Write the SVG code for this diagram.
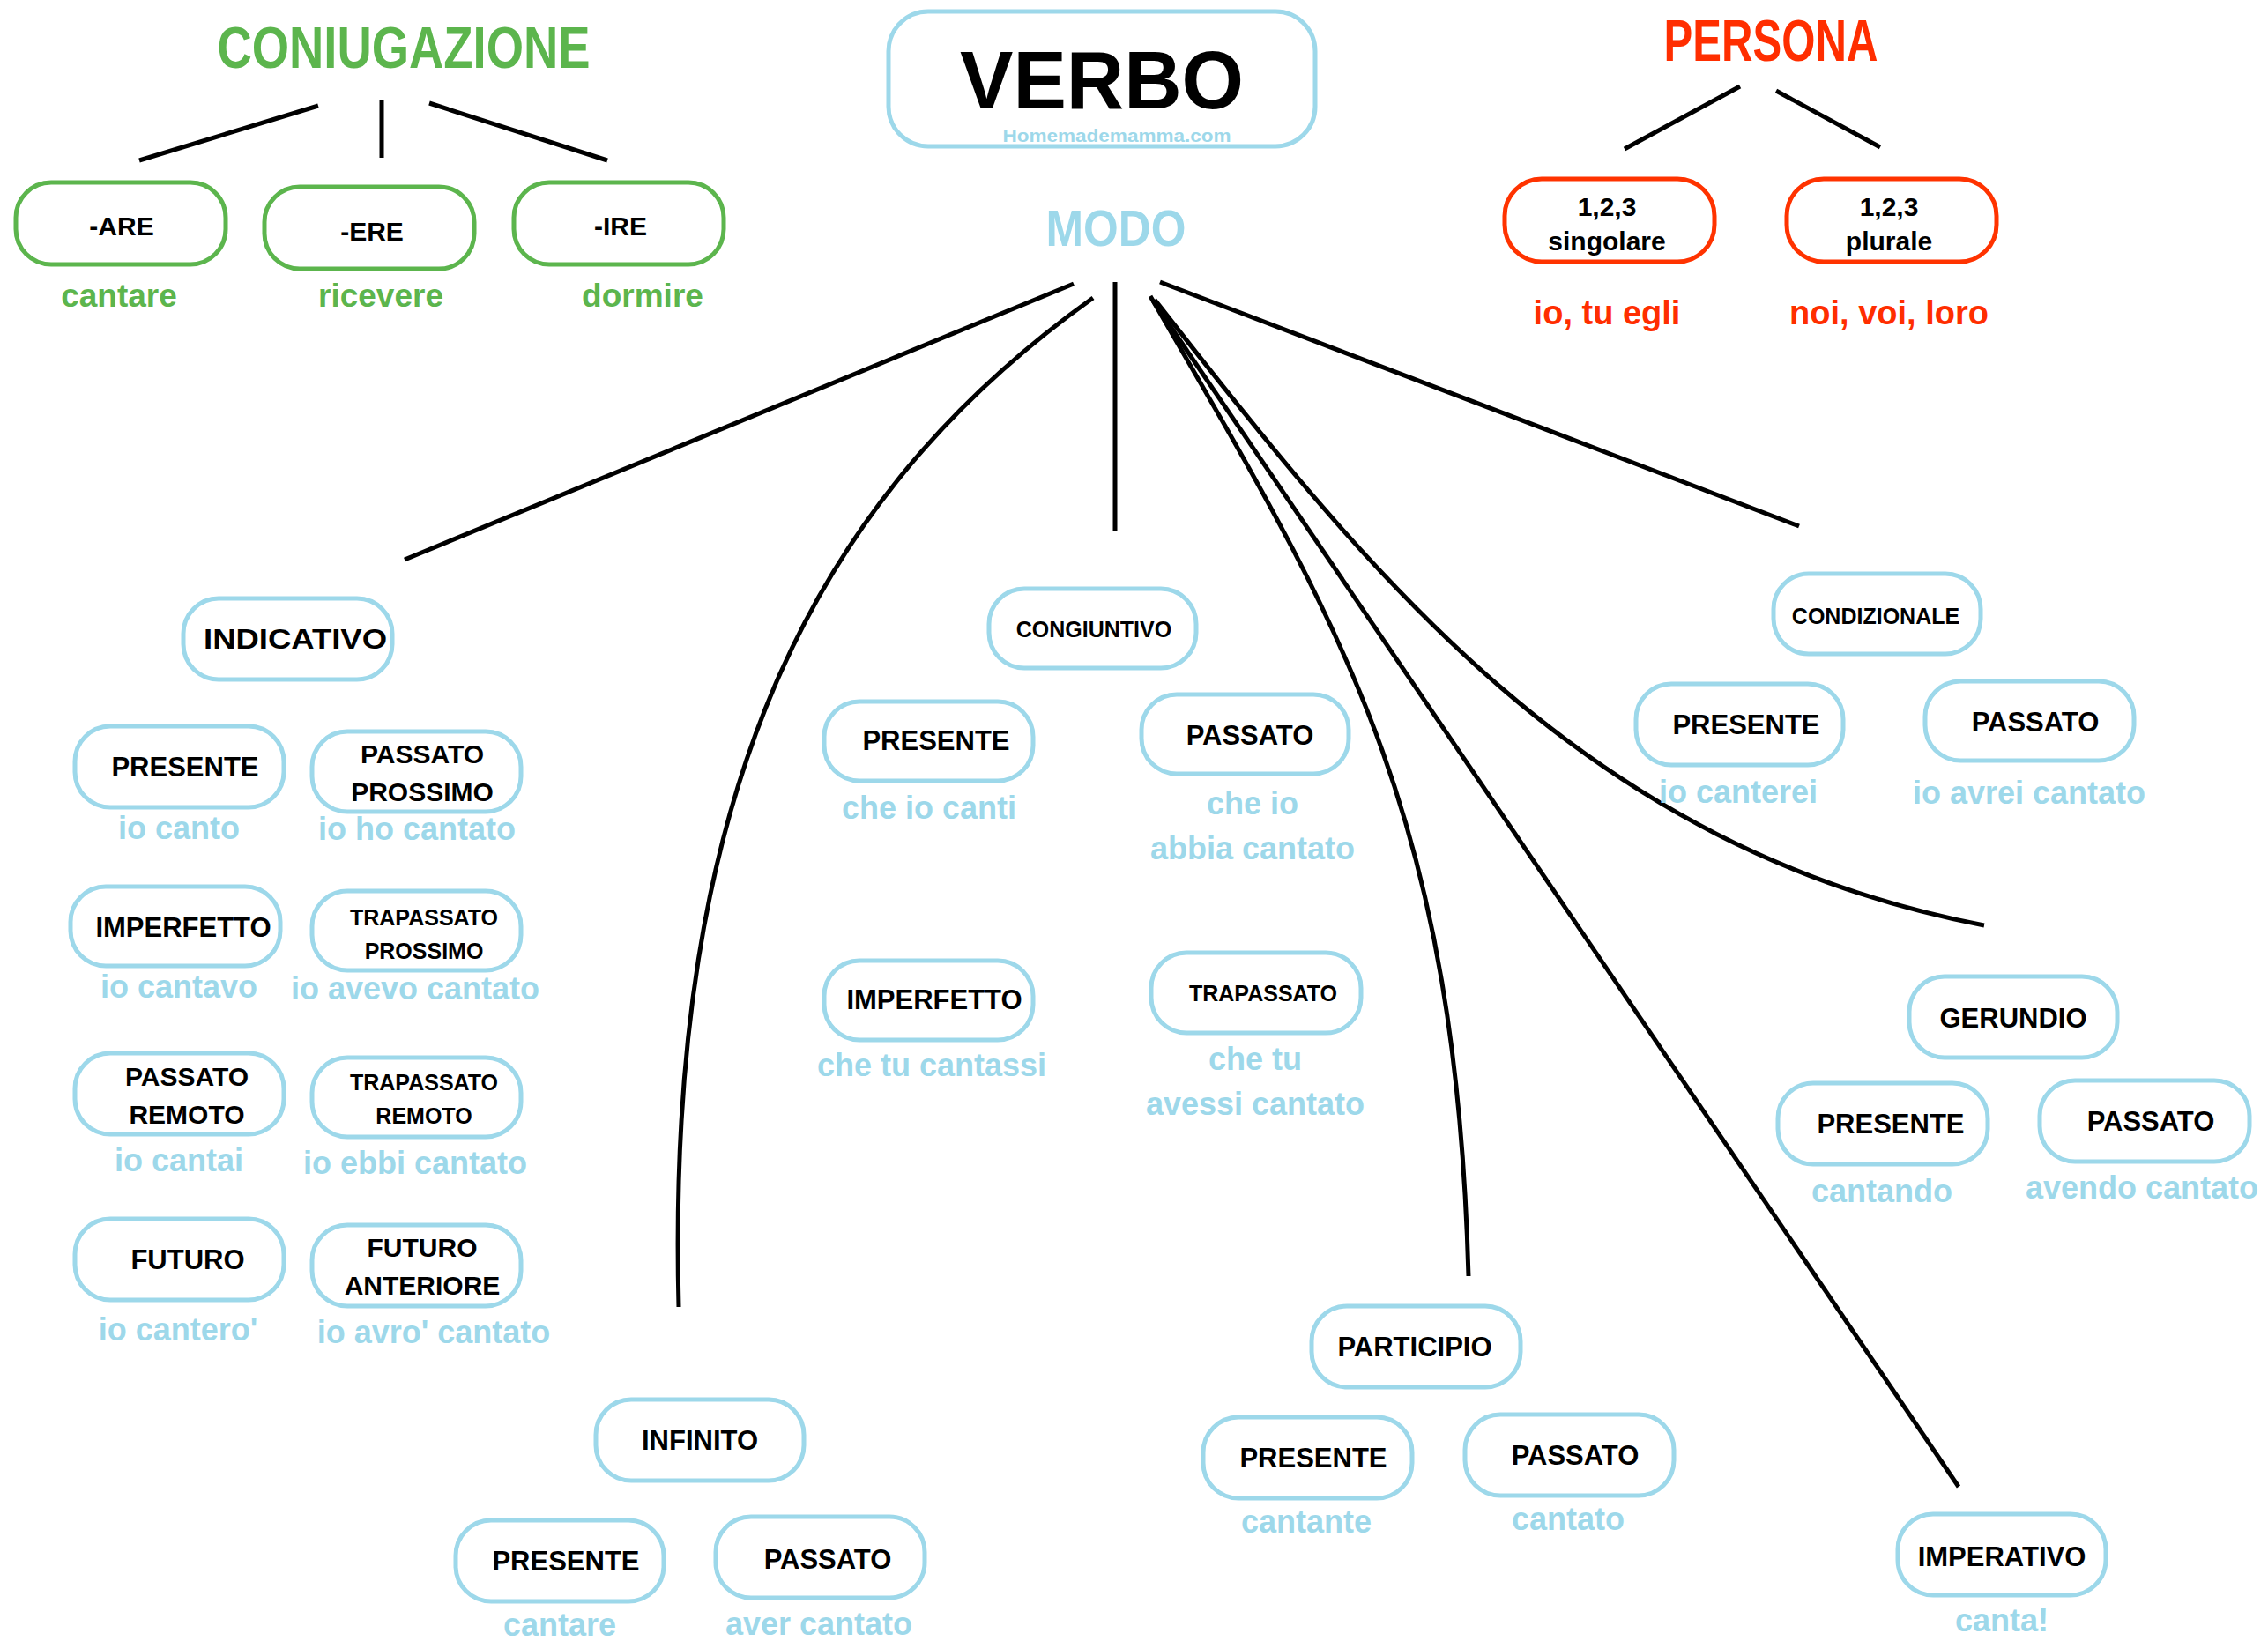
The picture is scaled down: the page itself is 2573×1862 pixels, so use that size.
<svg xmlns="http://www.w3.org/2000/svg" width="2573" height="1862" viewBox="0 0 2573 1862">
<style>
text{font-family:"Liberation Sans",Arial,sans-serif;font-weight:bold;text-anchor:middle}
.box{fill:#fff;stroke:#9dd8ea;stroke-width:5}
.gbox{fill:#fff;stroke:#5cb54d;stroke-width:5}
.rbox{fill:#fff;stroke:#ff3300;stroke-width:5}
.k{fill:#000;font-size:31px}
.ks{fill:#000;font-size:25px}
.kt{fill:#000;font-size:30px}
.lb{fill:#9dd8ea;font-size:36px}
.gr{fill:#5cb54d}
.rd{fill:#ff2e00}
.conn{fill:none;stroke:#000;stroke-width:5}
</style>
<rect width="2573" height="1862" fill="#fff"/>

<g id="connectors" class="conn">
<line x1="361" y1="120" x2="158" y2="182"/>
<line x1="433" y1="113" x2="433" y2="179"/>
<line x1="487" y1="117" x2="689" y2="182"/>
<line x1="1974" y1="98" x2="1843" y2="169"/>
<line x1="2015" y1="103" x2="2133" y2="167"/>
<line x1="1218" y1="322" x2="459" y2="635"/>
<path d="M1240,338 C922,565 755,896 770,1483"/>
<line x1="1265" y1="320" x2="1265" y2="602"/>
<path d="M1305,336 C1519,707 1651,911 1666,1448"/>
<line x1="1308" y1="341" x2="2222" y2="1687"/>
<path d="M1310,340 C1553,650 1795,962 2251,1050"/>
<line x1="1316" y1="320" x2="2041" y2="597"/>
</g>

<g id="verbo">
<rect class="box" x="1008" y="13" width="484" height="153" rx="45"/>
<text x="1250" y="123" style="font-size:93px" fill="#000" textLength="322" lengthAdjust="spacingAndGlyphs">VERBO</text>
<text x="1267" y="161" style="font-size:21px" fill="#9dd8ea" textLength="259" lengthAdjust="spacingAndGlyphs">Homemademamma.com</text>
</g>

<g id="coniugazione">
<text class="gr" x="458" y="77" style="font-size:66px" textLength="423" lengthAdjust="spacingAndGlyphs">CONIUGAZIONE</text>
</g>
<g id="are">
<rect class="gbox" x="18" y="207" width="238" height="93" rx="40"/>
<text class="kt" x="138" y="267">-ARE</text>
<text class="gr" x="135" y="348" style="font-size:37px">cantare</text>
</g>
<g id="ere">
<rect class="gbox" x="300" y="212" width="238" height="93" rx="40"/>
<text class="kt" x="422" y="273">-ERE</text>
<text class="gr" x="432" y="348" style="font-size:37px">ricevere</text>
</g>
<g id="ire">
<rect class="gbox" x="583" y="207" width="238" height="93" rx="40"/>
<text class="kt" x="704" y="267">-IRE</text>
<text class="gr" x="729" y="348" style="font-size:37px">dormire</text>
</g>

<g id="persona">
<text class="rd" x="2009" y="69" style="font-size:66px" textLength="243" lengthAdjust="spacingAndGlyphs">PERSONA</text>
</g>
<g id="singolare">
<rect class="rbox" x="1707" y="203" width="238" height="94" rx="42"/>
<text class="kt" x="1823" y="245">1,2,3</text>
<text class="kt" x="1823" y="284">singolare</text>
<text class="rd" x="1823" y="368" style="font-size:38px">io, tu egli</text>
</g>
<g id="plurale">
<rect class="rbox" x="2027" y="203" width="238" height="94" rx="42"/>
<text class="kt" x="2143" y="245">1,2,3</text>
<text class="kt" x="2143" y="284">plurale</text>
<text class="rd" x="2143" y="368" style="font-size:38px">noi, voi, loro</text>
</g>

<g id="modo">
<text x="1266" y="279" style="font-size:57px" fill="#9dd8ea" textLength="159" lengthAdjust="spacingAndGlyphs">MODO</text>
</g>

<g id="indicativo">
<rect class="box" x="208" y="679" width="237" height="92" rx="40"/>
<text class="k" x="335" y="736" textLength="208" lengthAdjust="spacingAndGlyphs">INDICATIVO</text>
</g>
<g id="ind-presente">
<rect class="box" x="85" y="824" width="237" height="92" rx="40"/>
<text class="k" x="210" y="881">PRESENTE</text>
<text class="lb" x="203" y="952">io canto</text>
</g>
<g id="ind-passato-prossimo">
<rect class="box" x="354" y="830" width="237" height="91" rx="40"/>
<text class="kt" x="479" y="866">PASSATO</text>
<text class="kt" x="479" y="909">PROSSIMO</text>
<text class="lb" x="473" y="953">io ho cantato</text>
</g>
<g id="ind-imperfetto">
<rect class="box" x="80" y="1006" width="238" height="90" rx="40"/>
<text class="k" x="208" y="1063">IMPERFETTO</text>
<text class="lb" x="203" y="1132">io cantavo</text>
</g>
<g id="ind-trapassato-prossimo">
<rect class="box" x="354" y="1011" width="237" height="90" rx="40"/>
<text class="ks" x="481" y="1050">TRAPASSATO</text>
<text class="ks" x="481" y="1088">PROSSIMO</text>
<text class="lb" x="471" y="1134">io avevo cantato</text>
</g>
<g id="ind-passato-remoto">
<rect class="box" x="85" y="1195" width="237" height="92" rx="40"/>
<text class="kt" x="212" y="1232">PASSATO</text>
<text class="kt" x="212" y="1275">REMOTO</text>
<text class="lb" x="203" y="1329">io cantai</text>
</g>
<g id="ind-trapassato-remoto">
<rect class="box" x="354" y="1200" width="237" height="90" rx="40"/>
<text class="ks" x="481" y="1237">TRAPASSATO</text>
<text class="ks" x="481" y="1275">REMOTO</text>
<text class="lb" x="471" y="1332">io ebbi cantato</text>
</g>
<g id="ind-futuro">
<rect class="box" x="85" y="1383" width="237" height="92" rx="40"/>
<text class="k" x="213" y="1440">FUTURO</text>
<text class="lb" x="202" y="1521">io cantero'</text>
</g>
<g id="ind-futuro-anteriore">
<rect class="box" x="354" y="1390" width="237" height="92" rx="40"/>
<text class="kt" x="479" y="1426">FUTURO</text>
<text class="kt" x="479" y="1469">ANTERIORE</text>
<text class="lb" x="492" y="1524">io avro' cantato</text>
</g>

<g id="congiuntivo">
<rect class="box" x="1122" y="668" width="235" height="90" rx="40"/>
<text class="ks" x="1241" y="723">CONGIUNTIVO</text>
</g>
<g id="cong-presente">
<rect class="box" x="935" y="796" width="237" height="90" rx="40"/>
<text class="k" x="1062" y="851">PRESENTE</text>
<text class="lb" x="1054" y="929">che io canti</text>
</g>
<g id="cong-passato">
<rect class="box" x="1295" y="788" width="235" height="90" rx="40"/>
<text class="k" x="1418" y="845">PASSATO</text>
<text class="lb" x="1421" y="924">che io</text>
<text class="lb" x="1421" y="975">abbia cantato</text>
</g>
<g id="cong-imperfetto">
<rect class="box" x="935" y="1090" width="237" height="90" rx="40"/>
<text class="k" x="1060" y="1145">IMPERFETTO</text>
<text class="lb" x="1057" y="1221">che tu cantassi</text>
</g>
<g id="cong-trapassato">
<rect class="box" x="1306" y="1081" width="238" height="91" rx="40"/>
<text class="ks" x="1433" y="1136">TRAPASSATO</text>
<text class="lb" x="1424" y="1214">che tu</text>
<text class="lb" x="1424" y="1265">avessi cantato</text>
</g>

<g id="condizionale">
<rect class="box" x="2012" y="651" width="235" height="91" rx="40"/>
<text class="ks" x="2128" y="708">CONDIZIONALE</text>
</g>
<g id="cond-presente">
<rect class="box" x="1856" y="776" width="235" height="92" rx="40"/>
<text class="k" x="1981" y="833">PRESENTE</text>
<text class="lb" x="1972" y="911">io canterei</text>
</g>
<g id="cond-passato">
<rect class="box" x="2184" y="773" width="237" height="90" rx="40"/>
<text class="k" x="2309" y="830">PASSATO</text>
<text class="lb" x="2302" y="912">io avrei cantato</text>
</g>

<g id="gerundio">
<rect class="box" x="2166" y="1108" width="236" height="92" rx="40"/>
<text class="k" x="2284" y="1166">GERUNDIO</text>
</g>
<g id="ger-presente">
<rect class="box" x="2017" y="1229" width="238" height="92" rx="40"/>
<text class="k" x="2145" y="1286">PRESENTE</text>
<text class="lb" x="2135" y="1364">cantando</text>
</g>
<g id="ger-passato">
<rect class="box" x="2314" y="1226" width="238" height="92" rx="40"/>
<text class="k" x="2440" y="1283">PASSATO</text>
<text class="lb" x="2430" y="1360">avendo cantato</text>
</g>

<g id="infinito">
<rect class="box" x="676" y="1588" width="236" height="92" rx="40"/>
<text class="k" x="794" y="1645">INFINITO</text>
</g>
<g id="inf-presente">
<rect class="box" x="517" y="1725" width="236" height="92" rx="40"/>
<text class="k" x="642" y="1782">PRESENTE</text>
<text class="lb" x="635" y="1856">cantare</text>
</g>
<g id="inf-passato">
<rect class="box" x="812" y="1721" width="237" height="92" rx="40"/>
<text class="k" x="939" y="1780">PASSATO</text>
<text class="lb" x="929" y="1855">aver cantato</text>
</g>

<g id="participio">
<rect class="box" x="1488" y="1482" width="237" height="92" rx="40"/>
<text class="k" x="1605" y="1539">PARTICIPIO</text>
</g>
<g id="part-presente">
<rect class="box" x="1365" y="1608" width="237" height="92" rx="40"/>
<text class="k" x="1490" y="1665">PRESENTE</text>
<text class="lb" x="1482" y="1739">cantante</text>
</g>
<g id="part-passato">
<rect class="box" x="1662" y="1605" width="237" height="92" rx="40"/>
<text class="k" x="1787" y="1662">PASSATO</text>
<text class="lb" x="1779" y="1736">cantato</text>
</g>

<g id="imperativo">
<rect class="box" x="2153" y="1718" width="236" height="92" rx="40"/>
<text class="k" x="2271" y="1777">IMPERATIVO</text>
<text class="lb" x="2271" y="1851">canta!</text>
</g>
</svg>
